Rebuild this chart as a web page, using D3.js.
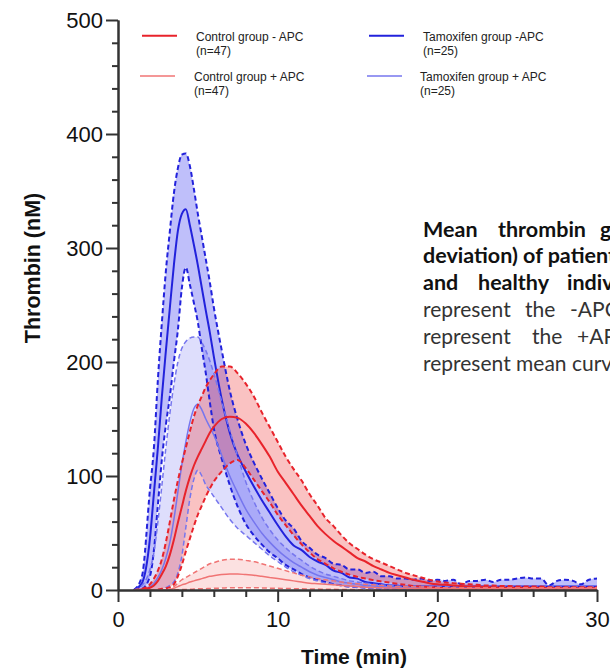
<!DOCTYPE html>
<html><head><meta charset="utf-8">
<script src="https://cdn.jsdelivr.net/npm/d3@7"></script>
<style>
html,body{margin:0;padding:0;background:#fff;overflow:hidden}
svg{display:block}
</style></head><body>
<svg id="chart" width="610" height="670"></svg>
<script>
// ---------------- DATA ----------------
const time = [1,1.5,2,2.25,2.5,2.75,3,3.25,3.5,3.75,4,4.25,4.5,4.75,5,5.25,5.5,5.75,6,
  6.5,7,7.5,8,8.5,9,9.5,10,10.5,11,11.5,12,12.5,13,13.5,14,14.5,15,15.5,16,16.5,17,17.5,18,18.5,19,19.5,20,
  20.5,21,21.5,22,22.5,23,23.5,24,24.5,25,25.5,26,26.5,27,27.5,28,28.5,29,29.5,30];

// Tamoxifen group -APC (n=25)
const tamMinusMean = [0,6,45,85,125,170,210,248,285,315,330,334,320,303,285,265,245,226,205,
  167,138,118,104,91,79,68,57,47,39,35,29,25,22,17,15,11,10,7,6,5,4,4,3,3,3,3,3,
  3,3,3,3,3,3,3,3,3,3,3,3,3,3,3,3,3,3,3,3];
const tamMinusUpper = [0,12,88,125,185,235,280,315,348,370,382,383,372,352,330,310,290,270,248,
  210,175,149,128,112,98,85,72,61,54,43,37,31,28,23,22,18,18,15,16,12,12,10,10,9,10,8,9,
  8,9,5,8,8,9,7,9,9,10,11,10,10,4,8,9,8,5,9,10];
const tamMinusLower = [0,1,12,35,75,115,145,170,200,228,265,283,268,252,235,212,190,165,142,
  115,92,73,58,48,40,33,28,22,18,14,11,9,7,5,4,3,2.5,2,1.5,1,1,0.5,0,0,0,0,0,
  0,0,0,0,0,0,0,0,0,0,0,0,0,0,0,0,0,0,0,0];

// Tamoxifen group +APC (n=25)
const tamPlusMean = [0,0,3,6,11,18,28,42,62,86,110,130,147,159,163,158,150,143,136,
  118,100,85,71,60,50,42,35,29,24,20,16,13,11,9,7,6,5,4,3.5,3,2.5,2,2,2,2,2,2,
  1.5,1.5,1.5,1.5,1.5,1.5,1.5,1.5,1.5,1.5,1.5,1.5,1.5,1.5,1.5,1.5,1.5,1.5,1.5,1.5];
const tamPlusUpper = [0,4,18,33,60,92,125,155,180,200,212,218,221,222,222,217,210,201,190,
  165,140,117,95,78,64,53,44,37,31,26,21,17,14,12,10,8,7,6,5,4.5,4,3.5,3,3,3,3,3,
  3,3,3,3,3,3,3,3,3,3,3,3,3,3,3,3,3,3,3,3];
const tamPlusLower = [0,0,0,0,0,1,2,4,7,15,30,55,80,97,105,100,92,87,82,
  72,62,54,48,42,36,30,25,20,16,13,10,8,6,5,4,3,2.5,2,1.5,1,1,0.5,0.5,0.5,0.5,0.5,0,
  0,0,0,0,0,0,0,0,0,0,0,0,0,0,0,0,0,0,0,0];

// Control group -APC (n=47)
const ctrlMinusMean = [0,0.5,2,4,8,14,21,31,44,59,73,87,99,109,117,124,131,138,143,
  150,152,151,146,138,128,117,104,94,84,74,65,56,49,43,38,33,28,25,21,18,15,13,11,9,7.5,6,5,
  4.5,4,3.5,3,3,2.5,2.5,2,2,2,2,2,2,1.5,1.5,1.5,1.5,1.5,1.5,1.5];
const ctrlMinusUpper = [0,1,5,10,17,27,42,60,79,96,111,125,139,152,162,170,178,184,189,
  196,196,190,181,170,156,143,130,117,106,96,84,74,63,56,48,41,36,31,27,24,21,18,15,13,11,9,7.5,
  6.5,6,5.5,5,4.5,4,4,3.5,3.5,3,3,3,3,2.5,2.5,2.5,2.5,2.5,2.5,2.5];
const ctrlMinusLower = [0,0,0,0,0.5,1,1.5,2.5,5,12,22,34,45,56,66,74,82,89,95,
  104,111,114,107,97,87,77,66,57,48,40,33,27,23,19,16,13.5,11.5,10,8.5,7.5,6.5,5.5,4.5,3.5,3,2.5,2,
  1.5,1,1,0.5,0.5,0.5,0.5,0,0,0,0,0,0,0,0,0,0,0,0,0];

// Control group +APC (n=47)
const ctrlPlusMean = [0,0,0,0,0,0,0,0.5,1.5,3,4.5,5.5,7,8,9,10,11,12,12.5,
  13.5,14,14,13.5,13,12,11,10,9,8,7,6,5.5,5,4.5,4,3.5,3,2.5,2.2,2,1.8,1.6,1.5,1.4,1.3,1.2,1.1,
  1,1,1,1,1,1,1,1,1,1,1,1,1,1,1,1,1,1,1,1];
const ctrlPlusUpper = [0,0,0,0,0,0,0,1,3,6,9,11,13,15,17,19,21,23,24,
  26,27,27,26,25,23,21,19,17,15,13,11.5,10,9,8,7,6,5.5,5,4.5,4,3.5,3,3,2.8,2.6,2.4,2.2,
  2,2,2,2,2,2,2,2,2,2,2,2,2,2,2,2,2,2,2,2];
const ctrlPlusLower = [0,0,0,0,0,0,0,0,0,0.2,0.4,0.5,0.6,0.8,1,1,1.2,1.3,1.5,
  1.7,2,2,2,2,1.8,1.6,1.5,1.3,1.2,1,0.9,0.8,0.7,0.6,0.5,0.4,0.3,0.2,0,0,0,0,0,0,0,0,0,
  0,0,0,0,0,0,0,0,0,0,0,0,0,0,0,0,0,0,0,0];

const seriesNames = ["Control group - APC","Control group + APC","Tamoxifen group -APC","Tamoxifen group + APC"];
const seriesN = ["(n=47)","(n=47)","(n=25)","(n=25)"];

const yMajorTicks = [0,100,200,300,400,500];
const yTickLabels = ["0","100","200","300","400","500"];
const xMajorTicks = [0,10,20,30];
const xTickLabels = ["0","10","20","30"];
const yMinorTicks = [20,40,60,80,120,140,160,180,220,240,260,280,320,340,360,380,420,440,460,480];
const xMinorTicks = [2,4,6,8,12,14,16,18,22,24,26,28];

const xTitle = "Time (min)";
const yTitle = "Thrombin (nM)";
const captionLines = [
  {words:["Mean","thrombin","generation"], bold:true},
  {words:["deviation) of patients"], bold:true},
  {words:["and","healthy","individuals"], bold:true},
  {words:["represent","the","-APC"], bold:false},
  {words:["represent","the","+APC"], bold:false},
  {words:["represent mean curves"], bold:false}
];

// ---------------- LAYOUT / STYLE ----------------
const svg = d3.select("#chart");
const x = d3.scaleLinear().domain([0,30]).range([118,597]);
const y = d3.scaleLinear().domain([0,500]).range([590,20]);
const idx = d3.range(time.length);

const groups = [
  {mean:tamMinusMean, upper:tamMinusUpper, lower:tamMinusLower, line:"#2222dc", fill:"#2a2af0", op:0.3, w:2},
  {mean:tamPlusMean, upper:tamPlusUpper, lower:tamPlusLower, line:"#7676ee", fill:"#5c5cf0", op:0.2, w:1.5},
  {mean:ctrlMinusMean, upper:ctrlMinusUpper, lower:ctrlMinusLower, line:"#e8232b", fill:"#ee3434", op:0.3, w:2},
  {mean:ctrlPlusMean, upper:ctrlPlusUpper, lower:ctrlPlusLower, line:"#f07474", fill:"#f05a5a", op:0.18, w:1.5}
];

const plot = svg.append("g");
groups.forEach(g => {
  const area = d3.area().x(i=>x(time[i])).y0(i=>y(g.lower[i])).y1(i=>y(g.upper[i])).curve(d3.curveMonotoneX);
  plot.append("path").attr("d", area(idx)).attr("fill", g.fill).attr("fill-opacity", g.op).attr("stroke","none");
});
groups.forEach(g => {
  const mk = arr => d3.line().x(i=>x(time[i])).y(i=>y(arr[i])).curve(d3.curveMonotoneX)(idx);
  [g.upper, g.lower].forEach(arr => {
    plot.append("path").attr("d", mk(arr)).attr("fill","none")
      .attr("stroke", g.line).attr("stroke-width", g.w).attr("stroke-dasharray","5,3");
  });
  plot.append("path").attr("d", mk(g.mean)).attr("fill","none")
    .attr("stroke", g.line).attr("stroke-width", g.w);
});

// axes
const axisColor = "#333";
const tickFont = "'Liberation Sans', Arial, sans-serif";
function styleAxis(sel){
  sel.select(".domain").attr("stroke", axisColor).attr("stroke-width", 2);
  sel.selectAll(".tick line").attr("stroke", axisColor).attr("stroke-width", 2);
  sel.selectAll(".tick text").attr("fill","#111").style("font-family", tickFont).style("font-size","22px");
}
const yAx = svg.append("g").attr("transform","translate(118,0)")
  .call(d3.axisLeft(y).tickValues(yMajorTicks).tickSize(12).tickSizeOuter(0).tickPadding(3)
    .tickFormat((d,i)=>yTickLabels[i]));
styleAxis(yAx);
const yAxm = svg.append("g").attr("transform","translate(118,0)")
  .call(d3.axisLeft(y).tickValues(yMinorTicks).tickSize(6).tickSizeOuter(0).tickFormat(""));
styleAxis(yAxm);
const xAx = svg.append("g").attr("transform","translate(0,590)")
  .call(d3.axisBottom(x).tickValues(xMajorTicks).tickSize(12).tickSizeOuter(0).tickPadding(9)
    .tickFormat((d,i)=>xTickLabels[i]));
styleAxis(xAx);
const xAxm = svg.append("g").attr("transform","translate(0,590)")
  .call(d3.axisBottom(x).tickValues(xMinorTicks).tickSize(7).tickSizeOuter(0).tickFormat(""));
styleAxis(xAxm);

// titles
svg.append("text").attr("x",354).attr("y",664).attr("text-anchor","middle")
  .style("font-family", tickFont).style("font-size","21px").style("font-weight","bold").attr("fill","#111")
  .text(xTitle);
svg.append("text").attr("transform","translate(40,268) rotate(-90)").attr("text-anchor","middle")
  .style("font-family", tickFont).style("font-size","21.5px").style("font-weight","bold").attr("fill","#111")
  .text(yTitle);

// legend
const legendOrder = [2,3,0,1]; // group index for each legend entry
const legPos = [
  {lx:142, ly:35.7, tx:196, ty:40.5},
  {lx:140, ly:76, tx:194, ty:81},
  {lx:369, ly:35.7, tx:423, ty:40.5},
  {lx:367, ly:76, tx:420, ty:81}
];
const leg = svg.append("g");
seriesNames.forEach((name, i) => {
  const g = groups[legendOrder[i]], p = legPos[i];
  leg.append("line").attr("x1",p.lx).attr("x2",p.lx+35).attr("y1",p.ly).attr("y2",p.ly)
    .attr("stroke", g.line).attr("stroke-width", g.w);
  const t = leg.append("text").attr("x",p.tx).attr("y",p.ty)
    .style("font-family", tickFont).style("font-size","12px").attr("fill","#222");
  t.append("tspan").attr("x",p.tx).attr("y",p.ty).text(name);
  t.append("tspan").attr("x",p.tx).attr("y",p.ty+14).text(seriesN[i]);
});

// caption (justified paragraph, clipped at the right edge)
const capBase = [237, 263, 290, 317, 344, 371];
const capWordX = [[423,498,600],[423],[423,478,567],[423,525,570],[423,532,577],[423]];
const cap = svg.append("g").style("font-family","Lato, 'Open Sans', sans-serif");
captionLines.forEach((ln, li) => {
  const t = cap.append("text").attr("y", capBase[li])
    .style("font-size", ln.bold ? "21.5px" : "21px")
    .attr("fill", ln.bold ? "#111" : "#333").style("font-weight", ln.bold ? "bold" : "normal");
  ln.words.forEach((w, wi) => t.append("tspan").attr("x", capWordX[li][wi]).text(w));
});
</script>
</body></html>
